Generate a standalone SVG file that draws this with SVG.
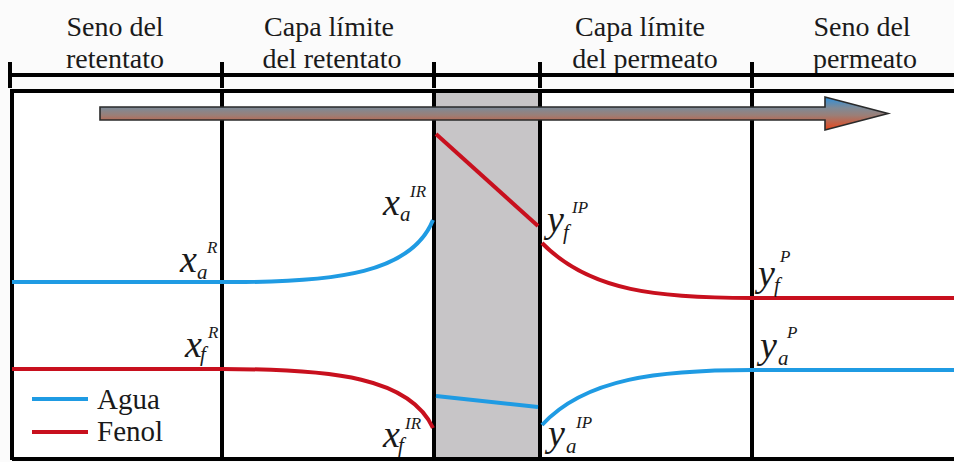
<svg xmlns="http://www.w3.org/2000/svg" width="954" height="462" viewBox="0 0 954 462">
<defs>
<linearGradient id="ag" gradientUnits="userSpaceOnUse" x1="0" y1="97" x2="0" y2="130">
<stop offset="0" stop-color="#2c8fdc"/>
<stop offset="0.33" stop-color="#7f8a96"/>
<stop offset="0.55" stop-color="#9a7f78"/>
<stop offset="1" stop-color="#e8461a"/>
</linearGradient>
</defs>
<style>
.hdr{font-family:"Liberation Serif","Times New Roman",serif;font-size:28px;fill:#1a1a1a;text-anchor:middle}
.leg{font-family:"Liberation Serif","Times New Roman",serif;font-size:29px;fill:#1a1a1a}
.v{font-family:"Liberation Serif","Times New Roman",serif;font-style:italic;font-size:38px;fill:#1a1a1a}
.sub{font-size:21px}
.sup{font-size:17px}
.blk{stroke:#000;stroke-width:4;fill:none}
.agua{stroke:#1f9be3;stroke-width:4;fill:none}
.fenol{stroke:#c8101e;stroke-width:4;fill:none}
</style>
<rect x="0" y="0" width="954" height="462" fill="#fbfbfb"/>
<rect x="12" y="91" width="942" height="369" fill="#ffffff"/>

<g id="membrane">
<rect x="434" y="91" width="106" height="369" fill="#c7c5c7"/>
</g>

<g id="headers">
<text class="hdr" x="115" y="36">Seno del</text>
<text class="hdr" x="115" y="68">retentato</text>
<text class="hdr" x="329" y="36">Capa límite</text>
<text class="hdr" x="332" y="68">del retentato</text>
<text class="hdr" x="640" y="36">Capa límite</text>
<text class="hdr" x="645" y="68">del permeato</text>
<text class="hdr" x="862" y="36">Seno del</text>
<text class="hdr" x="865" y="68">permeato</text>
</g>

<g id="brackets">
<line class="blk" x1="10" y1="75" x2="954" y2="75"/>
<line class="blk" x1="10" y1="62" x2="10" y2="88"/>
<line class="blk" x1="222" y1="62" x2="222" y2="88"/>
<line class="blk" x1="434" y1="62" x2="434" y2="88"/>
<line class="blk" x1="540" y1="62" x2="540" y2="88"/>
<line class="blk" x1="752" y1="62" x2="752" y2="88"/>
</g>

<g id="frame">
<line class="blk" x1="12" y1="91" x2="954" y2="91"/>
<line class="blk" x1="12" y1="89" x2="12" y2="460"/>
<line class="blk" x1="12" y1="459" x2="954" y2="459"/>
<line class="blk" x1="222" y1="91" x2="222" y2="460"/>
<line class="blk" x1="434" y1="91" x2="434" y2="460"/>
<line class="blk" x1="540" y1="91" x2="540" y2="460"/>
<line class="blk" x1="752" y1="91" x2="752" y2="460"/>
</g>

<g id="flow-arrow">
<polygon points="100,107 825,107 825,97 888,113.5 825,130 825,120 100,120" fill="url(#ag)" stroke="#2a2a2a" stroke-width="1.6" stroke-linejoin="miter"/>
</g>

<g id="connectors">
<path class="agua" d="M12,282 L222,282 C340,283 412,272 433,220"/>
<path class="agua" d="M436,396 L538,407"/>
<path class="agua" d="M542,425 C585,378 660,370 752,370 L954,370"/>
<path class="fenol" d="M12,369 L222,369 C335,369 410,378 433,428"/>
<path class="fenol" d="M436,134 L538,226"/>
<path class="fenol" d="M542,243 C590,292 660,298 752,298 L954,298"/>
</g>

<g id="legend">
<line class="agua" x1="32" y1="399" x2="88" y2="399"/>
<line class="fenol" x1="32" y1="432" x2="88" y2="432"/>
<text class="leg" x="97" y="409">Agua</text>
<text class="leg" x="97" y="441">Fenol</text>
</g>

<g id="labels">
<text class="v" x="180" y="272">x</text><text class="v sub" x="197" y="279">a</text><text class="v sup" x="207" y="253">R</text>
<text class="v" x="185" y="357">x</text><text class="v sub" x="200" y="361">f</text><text class="v sup" x="208" y="338">R</text>
<text class="v" x="383" y="215">x</text><text class="v sub" x="400" y="221">a</text><text class="v sup" x="410" y="197">IR</text>
<text class="v" x="383" y="447">x</text><text class="v sub" x="398" y="452">f</text><text class="v sup" x="405" y="429">IR</text>
<text class="v" x="547" y="232">y</text><text class="v sub" x="563" y="239">f</text><text class="v sup" x="572" y="213">IP</text>
<text class="v" x="758" y="286">y</text><text class="v sub" x="774" y="292">f</text><text class="v sup" x="780" y="262">P</text>
<text class="v" x="760" y="358">y</text><text class="v sub" x="778" y="365">a</text><text class="v sup" x="787" y="338">P</text>
<text class="v" x="548" y="446">y</text><text class="v sub" x="566" y="453">a</text><text class="v sup" x="576" y="428">IP</text>
</g>
</svg>
